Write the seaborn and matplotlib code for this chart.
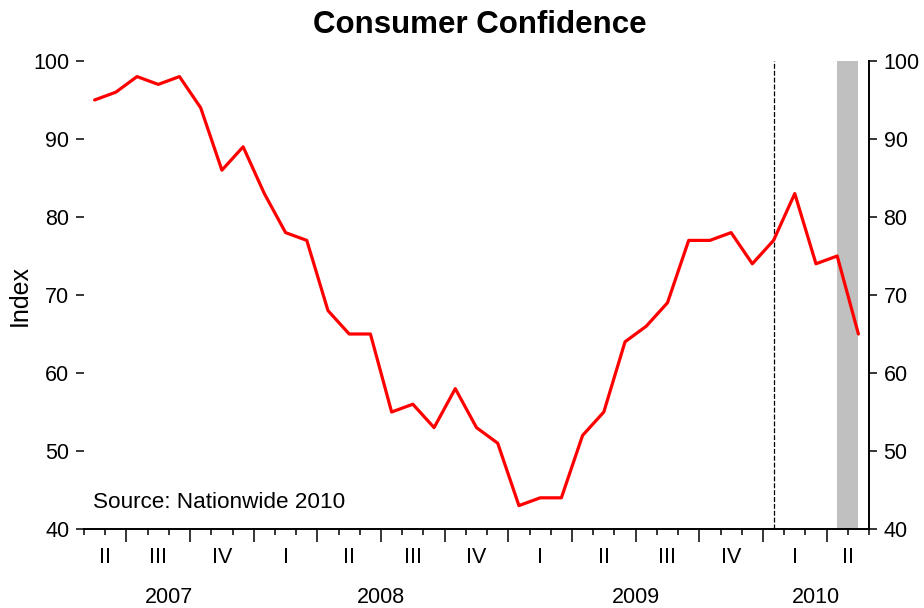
import numpy as np
import pandas as pd
import matplotlib
matplotlib.use("Agg")
import matplotlib.pyplot as plt
from matplotlib.ticker import FixedLocator, MultipleLocator
import seaborn as sns

sns.set_style("white")
plt.rcParams["font.family"] = ["Liberation Sans", "DejaVu Sans"]
plt.rcParams.update({"text.color": "black", "axes.labelcolor": "black",
                     "xtick.color": "black", "ytick.color": "black"})

RED = "#ff0000"
GREY = "#c0c0c0"

# monthly index, May 2007 - May 2010
months = pd.date_range("2007-05-01", "2010-05-01", freq="MS")
confidence = [95, 96, 98, 97, 98, 94, 86, 89, 83, 78,
              77, 68, 65, 65, 55, 56, 53, 58, 53, 51,
              43, 44, 44, 52, 55, 64, 66, 69, 77, 77,
              78, 74, 77, 83, 74, 75, 65]
quarter_names = ["I", "II", "III", "IV"]
marker_month = "2010-01-01"          # dashed vertical line
shaded_months = ("2010-04-01", "2010-05-01")
source_note = "Source: Nationwide 2010"

df = pd.DataFrame({"month": months, "Index": confidence})
df["t"] = np.arange(len(df))
df["year"] = df["month"].dt.year
df["quarter"] = df["month"].dt.quarter

fig = plt.figure(figsize=(9.24, 6.08), dpi=100)
ax = fig.add_axes([0.0909, 0.1299, 0.8496, 0.7698])

t_of = {m: i for i, m in enumerate(df["month"])}
s0, s1 = (t_of[pd.Timestamp(m)] for m in shaded_months)
ax.axvspan(s0, s1, color=GREY, lw=0, zorder=1)
ax.axvline(t_of[pd.Timestamp(marker_month)], color="black", lw=0.9,
           ls=(0, (4, 1.5)), zorder=2)

sns.lineplot(data=df, x="t", y="Index", color=RED, lw=2.3, ax=ax, zorder=3)

ax.set_xlim(-0.5, len(df) - 0.5)
ax.set_ylim(40, 100)
ax.yaxis.set_major_locator(MultipleLocator(10))

# month ticks (short) and quarter boundaries (long)
q_start = df.index[(df["month"].dt.month % 3 == 1)].to_numpy() - 0.5
ax.xaxis.set_major_locator(FixedLocator(q_start))
ax.xaxis.set_minor_locator(FixedLocator(np.arange(-0.5, len(df), 1.0)))
ax.set_xticklabels([])
ax.tick_params(axis="x", which="major", length=9.5, width=1.1, direction="out", bottom=True)
ax.tick_params(axis="x", which="minor", length=4.5, width=1.1, direction="out", bottom=True)
ax.tick_params(axis="y", left=True, right=True, labelleft=True, labelright=True,
               length=6, width=1.1, direction="out", labelsize=15.5, pad=4.5)

for side in ["top", "left"]:
    ax.spines[side].set_visible(False)
for side in ["bottom", "right"]:
    ax.spines[side].set_linewidth(1.4)
    ax.spines[side].set_color("black")

trans = ax.get_xaxis_transform()
for (yr, q), g in df.groupby(["year", "quarter"]):
    xc = (g["t"].min() + g["t"].max()) / 2
    ax.text(xc, -0.0726, quarter_names[q - 1], transform=trans,
            ha="center", va="baseline", fontsize=15.5)
for yr, g in df.groupby("year"):
    xc = (g["t"].min() + g["t"].max()) / 2
    ax.text(xc, -0.158, str(yr), transform=trans,
            ha="center", va="baseline", fontsize=15.5)

ax.set_xlabel("")
ax.set_ylabel("Index", fontsize=18)
ax.yaxis.set_label_coords(-0.066, 0.5)

ax.text(0.0115, 0.045, source_note, transform=ax.transAxes,
        ha="left", va="baseline", fontsize=16.2)

fig.text(0.5195, 0.9457, "Consumer Confidence", ha="center", va="baseline",
         fontsize=22.5, fontweight="bold")

fig.savefig("out.png", dpi=100)
plt.close(fig)
